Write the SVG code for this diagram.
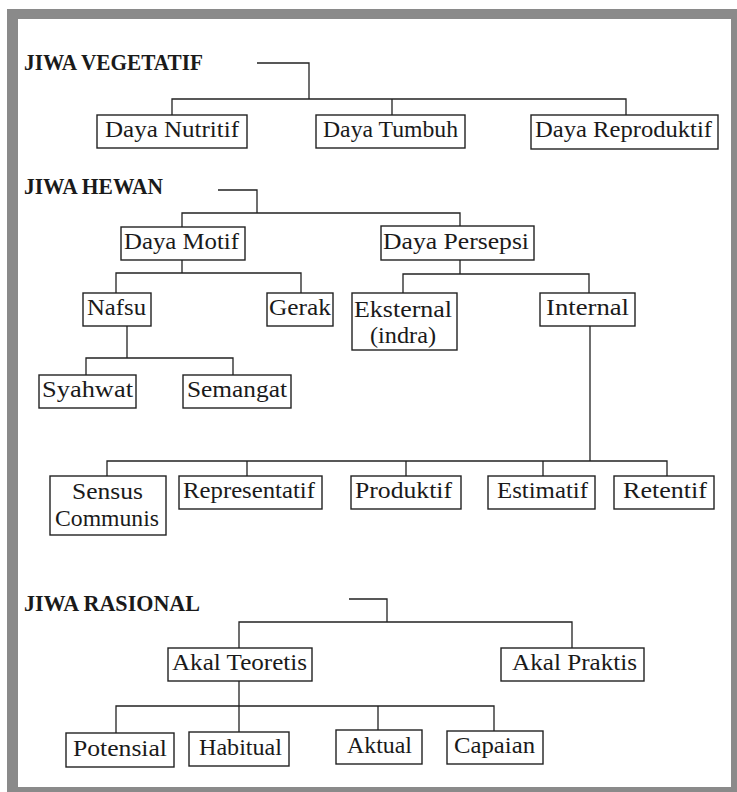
<svg xmlns="http://www.w3.org/2000/svg" width="737" height="792" viewBox="0 0 737 792">
<style>
.box{fill:#fff;stroke:#222;stroke-width:1.4}
.t{font-family:"Liberation Serif","DejaVu Serif","Times New Roman",serif;font-size:24px;fill:#1a1a1a}
.h{font-family:"Liberation Serif","DejaVu Serif","Times New Roman",serif;font-size:23px;font-weight:bold;fill:#1a1a1a}
.c{fill:none;stroke:#222;stroke-width:1.3}
</style>
<rect x="7" y="9" width="730" height="783" fill="#8a8a8a"/>
<rect x="18" y="19" width="713" height="768" fill="#fff"/>
<g id="connectors" class="c">
<path d="M257 63H309V99M172 115V99H626V115M392 99V115"/>
<path d="M218 190H257V213M182 227V213H460V226"/>
<path d="M182 260V273M116 293V273H301V293"/>
<path d="M460 260V274M403 293V274H589V293"/>
<path d="M127 326V358M86 375V358H233V375"/>
<path d="M590 326V461M107 476V461H667V476M247 461V476M406 461V476M543 461V476"/>
<path d="M349 599H387V622M239 648V622H572V648"/>
<path d="M239 681V732M116 733V706H494V731M378 706V730"/>
</g>
<g id="title-vegetatif"><text class="h" x="24" y="70" textLength="179" lengthAdjust="spacingAndGlyphs">JIWA VEGETATIF</text></g>
<g id="title-hewan"><text class="h" x="24" y="194" textLength="139" lengthAdjust="spacingAndGlyphs">JIWA HEWAN</text></g>
<g id="title-rasional"><text class="h" x="24" y="611" textLength="176" lengthAdjust="spacingAndGlyphs">JIWA RASIONAL</text></g>
<g id="daya-nutritif"><rect class="box" x="97" y="115" width="150" height="33"/><text class="t" x="105" y="137" textLength="134" lengthAdjust="spacingAndGlyphs">Daya Nutritif</text></g>
<g id="daya-tumbuh"><rect class="box" x="316" y="115" width="149" height="33"/><text class="t" x="323" y="137" textLength="135" lengthAdjust="spacingAndGlyphs">Daya Tumbuh</text></g>
<g id="daya-reproduktif"><rect class="box" x="531" y="115" width="187" height="34"/><text class="t" x="535" y="137" textLength="177" lengthAdjust="spacingAndGlyphs">Daya Reproduktif</text></g>
<g id="daya-motif"><rect class="box" x="121" y="227" width="124" height="33"/><text class="t" x="124" y="249" textLength="115" lengthAdjust="spacingAndGlyphs">Daya Motif</text></g>
<g id="daya-persepsi"><rect class="box" x="381" y="226" width="153" height="34"/><text class="t" x="383" y="249" textLength="146" lengthAdjust="spacingAndGlyphs">Daya Persepsi</text></g>
<g id="nafsu"><rect class="box" x="83" y="293" width="68" height="33"/><text class="t" x="87" y="315" textLength="59" lengthAdjust="spacingAndGlyphs">Nafsu</text></g>
<g id="gerak"><rect class="box" x="267" y="293" width="66" height="33"/><text class="t" x="269" y="315" textLength="62" lengthAdjust="spacingAndGlyphs">Gerak</text></g>
<g id="eksternal"><rect class="box" x="352" y="293" width="105" height="57"/><text class="t" x="354" y="317" textLength="98" lengthAdjust="spacingAndGlyphs">Eksternal</text><text class="t" x="370" y="343" textLength="66" lengthAdjust="spacingAndGlyphs">(indra)</text></g>
<g id="internal"><rect class="box" x="540" y="293" width="95" height="33"/><text class="t" x="546" y="315" textLength="83" lengthAdjust="spacingAndGlyphs">Internal</text></g>
<g id="syahwat"><rect class="box" x="39" y="375" width="97" height="33"/><text class="t" x="42" y="397" textLength="91" lengthAdjust="spacingAndGlyphs">Syahwat</text></g>
<g id="semangat"><rect class="box" x="183" y="375" width="108" height="33"/><text class="t" x="187" y="397" textLength="100" lengthAdjust="spacingAndGlyphs">Semangat</text></g>
<g id="sensus-communis"><rect class="box" x="50" y="476" width="116" height="59"/><text class="t" x="72" y="499" textLength="71" lengthAdjust="spacingAndGlyphs">Sensus</text><text class="t" x="55" y="526" textLength="104" lengthAdjust="spacingAndGlyphs">Communis</text></g>
<g id="representatif"><rect class="box" x="179" y="476" width="143" height="33"/><text class="t" x="183" y="498" textLength="132" lengthAdjust="spacingAndGlyphs">Representatif</text></g>
<g id="produktif"><rect class="box" x="351" y="476" width="110" height="33"/><text class="t" x="355" y="498" textLength="97" lengthAdjust="spacingAndGlyphs">Produktif</text></g>
<g id="estimatif"><rect class="box" x="488" y="476" width="107" height="33"/><text class="t" x="497" y="498" textLength="91" lengthAdjust="spacingAndGlyphs">Estimatif</text></g>
<g id="retentif"><rect class="box" x="614" y="476" width="100" height="33"/><text class="t" x="623" y="498" textLength="84" lengthAdjust="spacingAndGlyphs">Retentif</text></g>
<g id="akal-teoretis"><rect class="box" x="168" y="648" width="144" height="33"/><text class="t" x="172" y="670" textLength="135" lengthAdjust="spacingAndGlyphs">Akal Teoretis</text></g>
<g id="akal-praktis"><rect class="box" x="501" y="648" width="143" height="33"/><text class="t" x="512" y="670" textLength="125" lengthAdjust="spacingAndGlyphs">Akal Praktis</text></g>
<g id="potensial"><rect class="box" x="66" y="733" width="108" height="34"/><text class="t" x="73" y="756" textLength="94" lengthAdjust="spacingAndGlyphs">Potensial</text></g>
<g id="habitual"><rect class="box" x="189" y="732" width="100" height="34"/><text class="t" x="199" y="755" textLength="83" lengthAdjust="spacingAndGlyphs">Habitual</text></g>
<g id="aktual"><rect class="box" x="336" y="730" width="86" height="34"/><text class="t" x="347" y="753" textLength="65" lengthAdjust="spacingAndGlyphs">Aktual</text></g>
<g id="capaian"><rect class="box" x="447" y="731" width="96" height="33"/><text class="t" x="454" y="753" textLength="81" lengthAdjust="spacingAndGlyphs">Capaian</text></g>
</svg>
